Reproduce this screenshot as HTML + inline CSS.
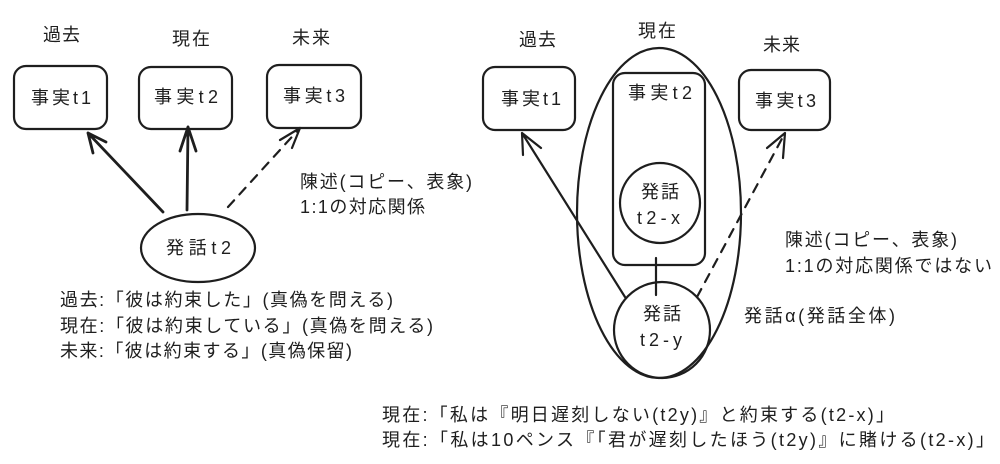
<!DOCTYPE html>
<html><head><meta charset="utf-8"><style>
html,body{margin:0;padding:0;background:#fff;}
svg{display:block}
text{font-family:"Liberation Sans","Noto Sans CJK JP",sans-serif;font-size:18px;fill:#1e1e1e}
</style></head><body>
<svg width="1000" height="464" viewBox="0 0 1000 464" xmlns="http://www.w3.org/2000/svg">
<g fill="none" stroke="#1e1e1e" stroke-width="2.2" stroke-linecap="round" stroke-linejoin="round">
<rect x="14" y="66" width="93" height="63" rx="12"/>
<rect x="139" y="67" width="93" height="62" rx="12"/>
<rect x="267" y="65" width="94" height="63" rx="12"/>
<ellipse cx="198" cy="248" rx="57" ry="34"/>
<path d="M163 212 L88 133 M88 133 L93 153 M88 133 L106 142" stroke-width="2.8"/>
<path d="M187 210 L188 127 M188 127 L180 151 M188 127 L196 151" stroke-width="2.8"/>
<path d="M228 207 L300 128" stroke-dasharray="9 8"/>
<path d="M300 128 L280 140 M300 128 L292 148"/>
<rect x="483" y="67" width="92" height="63" rx="12"/>
<rect x="739" y="70" width="91" height="60" rx="12"/>
<ellipse cx="659" cy="213" rx="82" ry="165"/>
<rect x="613" y="73" width="92" height="192" rx="12"/>
<circle cx="660" cy="203" r="40"/>
<circle cx="662" cy="330" r="48"/>
<path d="M656 258 L656 295"/>
<path d="M625 297 L522 133 M522 133 L523 155 M522 133 L541 148"/>
<path d="M697 297 L785 133" stroke-dasharray="9 8"/>
<path d="M785 133 L767 148 M785 133 L783 158"/>
</g>
<text x="43" y="41" textLength="37">過去</text>
<text x="172" y="45" textLength="38">現在</text>
<text x="292" y="44" textLength="38">未来</text>
<text x="31" y="104" textLength="60">事実t1</text>
<text x="154" y="103" textLength="64">事実t2</text>
<text x="283" y="102" textLength="62">事実t3</text>
<text x="166" y="254" textLength="65">発話t2</text>
<text x="300" y="188" textLength="172">陳述(コピー、表象)</text>
<text x="300" y="213" textLength="125">1:1の対応関係</text>
<text x="60" y="306" textLength="333">過去:「彼は約束した」(真偽を問える)</text>
<text x="60" y="332" textLength="373">現在:「彼は約束している」(真偽を問える)</text>
<text x="60" y="357" textLength="292">未来:「彼は約束する」(真偽保留)</text>
<text x="519" y="46" textLength="37">過去</text>
<text x="638" y="37" textLength="38">現在</text>
<text x="763" y="51" textLength="37">未来</text>
<text x="501" y="105" textLength="60">事実t1</text>
<text x="628" y="99" textLength="64">事実t2</text>
<text x="755" y="107" textLength="61">事実t3</text>
<text x="641" y="198" textLength="38">発話</text>
<text x="637" y="224" textLength="43">t2-x</text>
<text x="643" y="320" textLength="38">発話</text>
<text x="640" y="346" textLength="42">t2-y</text>
<text x="785" y="246" textLength="172">陳述(コピー、表象)</text>
<text x="785" y="272" textLength="207">1:1の対応関係ではない</text>
<text x="744" y="322" textLength="151">発話α(発話全体)</text>
<text x="382" y="421" textLength="512">現在:「私は『明日遅刻しない(t2y)』と約束する(t2-x)」</text>
<text x="382" y="446" textLength="612">現在:「私は10ペンス『「君が遅刻したほう(t2y)』に賭ける(t2-x)」</text>
</svg>
</body></html>
